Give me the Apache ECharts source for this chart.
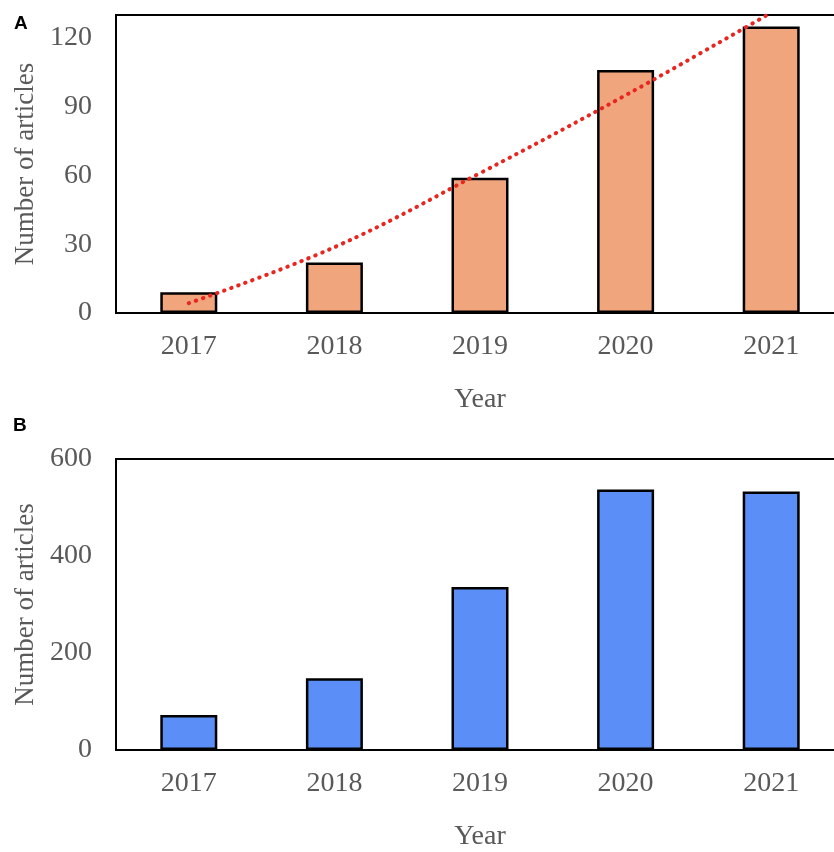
<!DOCTYPE html>
<html>
<head>
<meta charset="utf-8">
<script src="https://cdn.jsdelivr.net/npm/echarts@6/dist/echarts.min.js"></script>
<style>
  html, body { margin: 0; padding: 0; background: #fff; }
  #chart { width: 834px; height: 852px; }
</style>
</head>
<body>
<div id="chart"></div>
<script>
// values
const years = ['2017', '2018', '2019', '2020', '2021']
const articlesA = [9, 22, 59, 106, 125]
const trendA = [4.3, 28.7, 61, 95, 131]   // dotted trend line in panel A
const articlesB = [72, 148, 336, 537, 533]

const serif = 'Liberation Serif'
const tickColor = '#595959'

const chart = echarts.init(document.getElementById('chart'))

// shared axis builders
const xAxisFor = (gridIndex, nameGap) => ({
  type: 'category',
  gridIndex,
  data: years,
  name: 'Year',
  nameLocation: 'middle',
  nameGap,
  nameTextStyle: { fontFamily: serif, fontSize: 28, color: tickColor },
  axisLine: { lineStyle: { color: '#000', width: 2 } },
  axisTick: { show: false },
  axisLabel: { fontFamily: serif, fontSize: 28, color: tickColor, margin: 20 }
})

const yAxisFor = (gridIndex, max, interval) => ({
  type: 'value',
  gridIndex,
  min: 0,
  max,
  interval,
  name: 'Number of articles',
  nameLocation: 'middle',
  nameGap: 68,
  nameTextStyle: { fontFamily: serif, fontSize: 27, color: tickColor },
  splitLine: { show: false },
  axisLine: { show: false },
  axisTick: { show: false },
  axisLabel: { fontFamily: serif, fontSize: 28, color: tickColor, margin: 24, showMaxLabel: max % interval === 0 }
})

const option = {
  animation: false,
  backgroundColor: '#fff',
  grid: [
    { left: 116, top: 15, width: 728, height: 298, outerBoundsMode: 'none', show: true, borderColor: '#000', borderWidth: 2 },
    { left: 116, top: 459, width: 728, height: 291, outerBoundsMode: 'none', show: true, borderColor: '#000', borderWidth: 2 }
  ],
  xAxis: [xAxisFor(0, 73), xAxisFor(1, 73)],
  yAxis: [yAxisFor(0, 130, 30), yAxisFor(1, 600, 200)],
  graphic: [
    { type: 'text', left: 14, top: 14, style: { text: 'A', font: 'bold 19px "Liberation Sans"', fill: '#000' } },
    { type: 'text', left: 13, top: 416, style: { text: 'B', font: 'bold 19px "Liberation Sans"', fill: '#000' } }
  ],
  series: [
    {
      type: 'bar',
      xAxisIndex: 0,
      yAxisIndex: 0,
      data: articlesA,
      barWidth: 57,
      itemStyle: { color: '#F1A57D', borderColor: '#000', borderWidth: 2.5 }
    },
    {
      type: 'line',
      xAxisIndex: 0,
      yAxisIndex: 0,
      data: trendA,
      smooth: 0.4,
      symbol: 'none',
      clip: true,
      z: 5,
      lineStyle: { color: '#E8261F', width: 4, type: [0.5, 7], cap: 'round' }
    },
    {
      type: 'bar',
      xAxisIndex: 1,
      yAxisIndex: 1,
      data: articlesB,
      barWidth: 57,
      itemStyle: { color: '#5B8FF7', borderColor: '#000', borderWidth: 2.5 }
    }
  ]
}

chart.setOption(option)
</script>
</body>
</html>
